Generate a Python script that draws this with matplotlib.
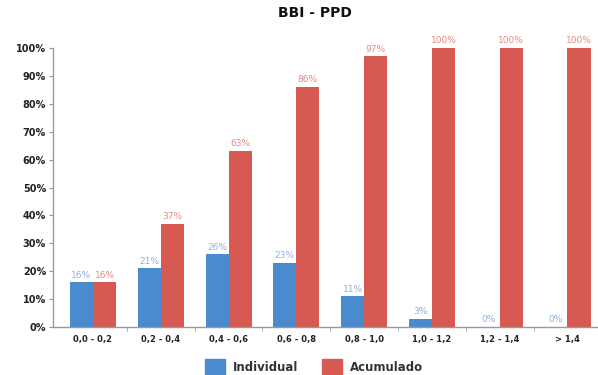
import matplotlib
matplotlib.use("Agg")
import matplotlib.pyplot as plt
import numpy as np
from matplotlib.patches import Patch

categories = ["0,0 - 0,2", "0,2 - 0,4", "0,4 - 0,6", "0,6 - 0,8",
              "0,8 - 1,0", "1,0 - 1,2", "1,2 - 1,4", "> 1,4"]
individual = [16, 21, 26, 23, 11, 3, 0, 0]
acumulado = [16, 37, 63, 86, 97, 100, 100, 100]
yticks = [0, 10, 20, 30, 40, 50, 60, 70, 80, 90, 100]

blue = "#4a8bd0"
red = "#d65a52"
blue_txt = "#8fb0e0"
red_txt = "#e48a84"

fig = plt.figure(figsize=(5.98, 3.75), dpi=100)
ax = fig.add_axes([53 / 598, 48 / 375, 545 / 598, 279 / 375])

x = np.arange(len(categories))
w = 0.34
ax.bar(x - w / 2, individual, w, color=blue, label="Individual")
ax.bar(x + w / 2, acumulado, w, color=red, label="Acumulado")

for xi, v in zip(x, individual):
    ax.text(xi - w / 2, v + 1.0, f"{v}%", ha="center", va="bottom",
            fontsize=6.5, color=blue_txt)
for xi, v in zip(x, acumulado):
    ax.text(xi + w / 2, v + 1.0, f"{v}%", ha="center", va="bottom",
            fontsize=6.5, color=red_txt)

ax.set_xlim(-0.59, 7.45)
ax.set_ylim(0, 100)
ax.set_yticks(yticks)
ax.set_yticklabels([f"{t}%" for t in yticks], fontsize=7, fontweight="bold",
                   color="#222222")
ax.set_xticks(x)
ax.set_xticklabels(categories, fontsize=6, fontweight="bold", color="#222222")
ax.set_xticks(x[:-1] + 0.5, minor=True)
ax.tick_params(axis="x", which="major", length=0, pad=6)
ax.tick_params(axis="x", which="minor", length=3, color="#999999", direction="out")
ax.tick_params(axis="y", length=3, color="#999999", pad=2)

for s in ["top", "right"]:
    ax.spines[s].set_visible(False)
for s in ["left", "bottom"]:
    ax.spines[s].set_color("#9a9a9a")
    ax.spines[s].set_linewidth(1.0)

fig.text(0.526, 0.966, "BBI - PPD", ha="center", va="center",
         fontsize=10, fontweight="bold", color="#111111")

handles = [Patch(color=blue, label="Individual"), Patch(color=red, label="Acumulado")]
fig.legend(handles=handles, loc="lower center", bbox_to_anchor=(0.525, -0.03),
           ncol=2, frameon=False, handlelength=1.7, handleheight=1.8,
           handletextpad=0.7, columnspacing=2.0,
           prop={"size": 8.5, "weight": "bold"}, labelcolor="#333333")

fig.savefig("out.png", dpi=100)
